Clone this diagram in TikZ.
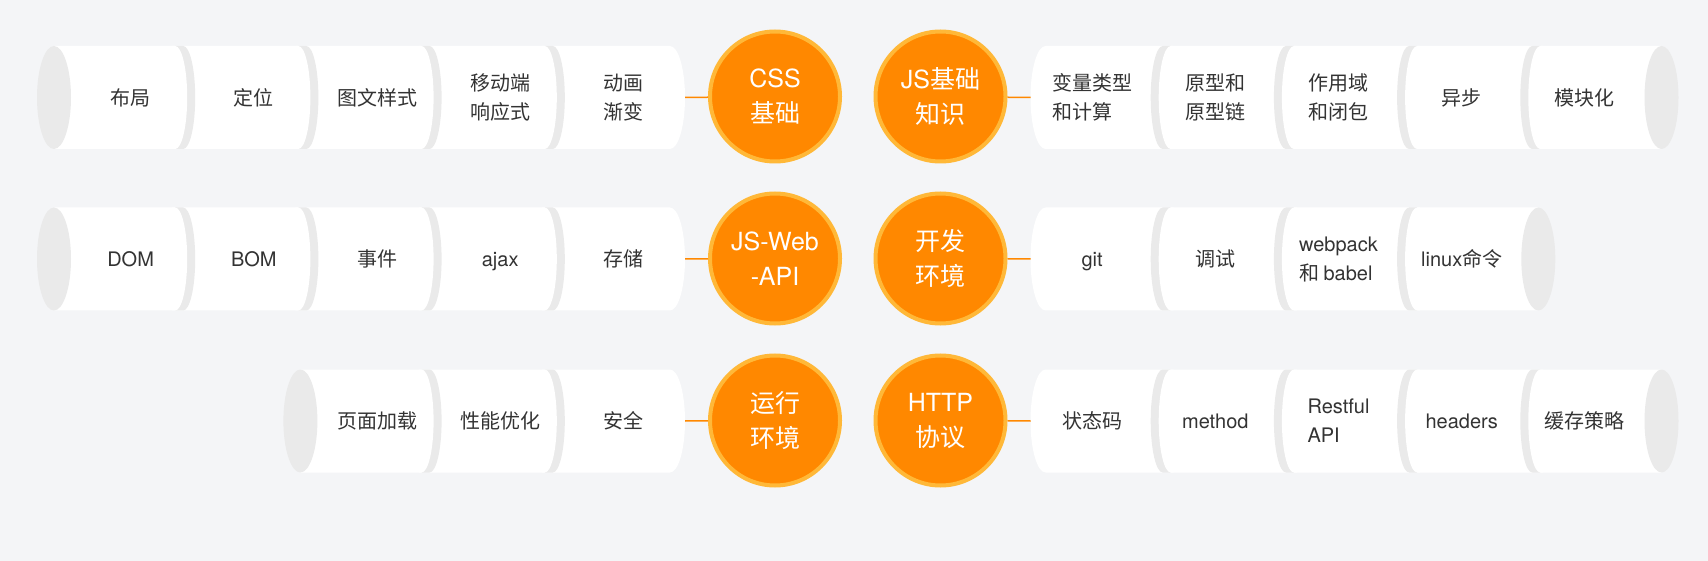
\documentclass[tikz,border=0pt]{standalone}
\usepackage{fontspec}
\setmainfont{Noto Sans CJK SC}
\newfontfamily\lat{TeX Gyre Heros}
\usetikzlibrary{positioning}
\definecolor{bg}{RGB}{244,245,247}
\definecolor{facegray}{RGB}{234,234,234}
\definecolor{txt}{RGB}{51,51,51}
\definecolor{core}{RGB}{255,136,0}
\definecolor{ring}{RGB}{255,184,56}
\tikzstyle{every item} = [text=txt, font=\fontsize{20}{29}\selectfont]
\tikzstyle{item} = [align=left, inner sep=0pt, every item]
\tikzstyle{word} = [inner sep=0pt, text height=17.6pt, text depth=2.4pt, every item]
\tikzstyle{topic} = [circle, fill=core, draw=ring, line width=4pt, minimum size=130pt,
                     inner sep=0pt, align=center, text=white, font=\fontsize{25}{35}\selectfont]
\tikzstyle{link} = [draw=core, line width=1.5pt]
% cylinder seen from the left: end face at #1, rounded end at #2, centre line #3
\newcommand{\rowL}[3]{%
  \fill[white] (#1,#3+51.5) -- (#2,#3+51.5)
    arc[start angle=90, end angle=-90, x radius=15, y radius=51.5] -- (#1,#3-51.5) -- cycle;
  \fill[facegray] (#1,#3) ellipse[x radius=17, y radius=51.5];}
% cylinder seen from the right: rounded end at #1, end face at #2, centre line #3
\newcommand{\rowR}[3]{%
  \fill[white] (#2,#3+51.5) -- (#1,#3+51.5)
    arc[start angle=90, end angle=270, x radius=15, y radius=51.5] -- (#2,#3-51.5) -- cycle;
  \fill[facegray] (#2,#3) ellipse[x radius=17, y radius=51.5];}
% joints between two pieces
\newcommand{\sepL}[2]{%
  \fill[facegray] (#1,#2+51.5) -- (#1+8,#2+51.5)
    arc[start angle=90, end angle=-90, x radius=12, y radius=51.5] -- (#1,#2-51.5) -- cycle;
  \fill[white] (#1-3,#2+51.5) -- (#1,#2+51.5)
    arc[start angle=90, end angle=-90, x radius=12, y radius=51.5] -- (#1-3,#2-51.5) -- cycle;}
\newcommand{\sepR}[2]{%
  \fill[facegray] (#1,#2+51.5) -- (#1-8,#2+51.5)
    arc[start angle=90, end angle=270, x radius=12, y radius=51.5] -- (#1,#2-51.5) -- cycle;
  \fill[white] (#1+3,#2+51.5) -- (#1,#2+51.5)
    arc[start angle=90, end angle=270, x radius=12, y radius=51.5] -- (#1+3,#2-51.5) -- cycle;}

\begin{document}
\begin{tikzpicture}[x=1pt, y=1pt]
    \fill[bg] (0,0) rectangle (1708,-561);

    % cylinders
    \rowL{54}{670}{-97.5}
    \rowL{54}{670}{-259}
    \rowL{300.4}{670}{-421}
    \rowR{1045.5}{1661.5}{-97.5}
    \rowR{1045.5}{1538.3}{-259}
    \rowR{1045.5}{1661.5}{-421}

    \sepL{175.2}{-97.5} \sepL{298.4}{-97.5} \sepL{421.6}{-97.5} \sepL{544.8}{-97.5}
    \sepL{175.2}{-259}  \sepL{298.4}{-259}  \sepL{421.6}{-259}  \sepL{544.8}{-259}
    \sepL{421.6}{-421}  \sepL{544.8}{-421}
    \sepR{1540.3}{-97.5} \sepR{1417.1}{-97.5} \sepR{1293.9}{-97.5} \sepR{1170.7}{-97.5}
    \sepR{1417.1}{-259}  \sepR{1293.9}{-259}  \sepR{1170.7}{-259}
    \sepR{1540.3}{-421}  \sepR{1417.1}{-421}  \sepR{1293.9}{-421}  \sepR{1170.7}{-421}

    % topics
    \node[topic] (css)     at (775,-96.5)   {{\lat CSS}\\基础};
    \node[topic] (jsjc)    at (940.5,-96.5) {{\lat JS}基础\\知识};
    \node[topic] (webapi)  at (775,-258.5)  {{\lat JS-Web}\\{\lat -API}};
    \node[topic] (kaifa)   at (940.5,-258.5) {开发\\环境};
    \node[topic] (yunxing) at (775,-420.5)  {运行\\环境};
    \node[topic] (http)    at (940.5,-420.5) {{\lat HTTP}\\协议};

    % row 1
    \node[item] (buju)     at (130.6,-97.5) {布局};
    \node[item] (dingwei)  at (253.8,-97.5) {定位};
    \node[item] (tuwen)    at (377,-97.5)   {图文样式};
    \node[item] (yidong)   at (500.2,-97.5) {移动端\\响应式};
    \node[item] (donghua)  at (623.4,-97.5) {动画\\渐变};
    \node[item] (bianliang) at (1092.1,-97.5) {变量类型\\和计算};
    \node[item] (yuanxing) at (1215.3,-97.5) {原型和\\原型链};
    \node[item] (zuoyong)  at (1338.5,-97.5) {作用域\\和闭包};
    \node[item] (yibu)     at (1461.7,-97.5) {异步};
    \node[item] (mokuai)   at (1584.9,-97.5) {模块化};

    % row 2
    \node[word] (dom)      at (130.6,-259) {\lat DOM};
    \node[word] (bom)      at (253.8,-259) {\lat BOM};
    \node[item] (shijian)  at (377,-259)   {事件};
    \node[word] (ajax)     at (500.2,-259) {\lat ajax};
    \node[item] (cunchu)   at (623.4,-259) {存储};
    \node[word] (git)      at (1092.1,-259) {\lat git};
    \node[item] (tiaoshi)  at (1215.3,-259) {调试};
    \node[item] (webpack)  at (1338.5,-259) {{\lat webpack}\\和 {\lat babel}};
    \node[word] (linux)    at (1461.7,-259) {{\lat linux}命令};

    % row 3
    \node[item] (jiazai)   at (377,-421)   {页面加载};
    \node[item] (xingneng) at (500.2,-421) {性能优化};
    \node[item] (anquan)   at (623.4,-421) {安全};
    \node[item] (zhuangtai) at (1092.1,-421) {状态码};
    \node[word] (method)   at (1215.3,-421) {\lat method};
    \node[item] (restful)  at (1338.5,-421) {{\lat Restful}\\{\lat API}};
    \node[word] (headers)  at (1461.7,-421) {\lat headers};
    \node[item] (huancun)  at (1584.9,-421) {缓存策略};

    % links
    \coordinate (donghuaEnd)  at (685,-97.5);
    \coordinate (bianliangEnd) at (1030.5,-97.5);
    \coordinate (cunchuEnd)   at (685,-259);
    \coordinate (gitEnd)      at (1030.5,-259);
    \coordinate (anquanEnd)   at (685,-421);
    \coordinate (zhuangtaiEnd) at (1030.5,-421);
    \draw[link] (donghuaEnd) -- (css);
    \draw[link] (jsjc) -- (bianliangEnd);
    \draw[link] (cunchuEnd) -- (webapi);
    \draw[link] (kaifa) -- (gitEnd);
    \draw[link] (anquanEnd) -- (yunxing);
    \draw[link] (http) -- (zhuangtaiEnd);
\end{tikzpicture}
\end{document}
